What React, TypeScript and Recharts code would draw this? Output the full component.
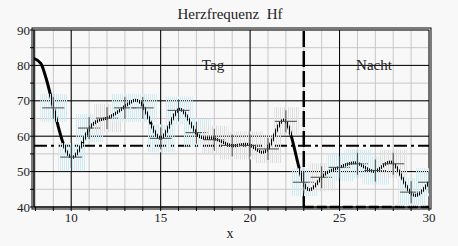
import React from 'react';
import {
  ComposedChart,
  Line,
  Scatter,
  XAxis,
  YAxis,
  CartesianGrid,
  ReferenceLine,
  ReferenceArea,
} from 'recharts';

// Smoothed heart-rate curve: steep start (shoulder) and the main smooth part
const headX = [7.9, 8.3, 8.6, 9];
const headY = [82, 80.6, 76.3, 68.2];
const curveX = [9, 10, 11, 12, 13, 14, 15, 16, 17, 18, 19, 20, 21, 22, 23, 24, 25, 26, 27, 28, 29, 30];
const curveY = [68.2, 54, 62, 65.1, 68.4, 68.7, 59.4, 67.5, 60.8, 59.3, 57.3, 57.5, 56.4, 64.2, 46.6, 48.4, 51.2, 52.4, 50.1, 52.4, 43.8, 47];

// Measured values (crosses)
const measX = [9, 10, 11, 12, 13, 14, 15, 16, 17, 18, 19, 20, 21, 22, 23, 24, 25, 26, 27, 28, 29, 30];
const measY = [68, 54.1, 62.3, 65.1, 68, 68, 59.4, 67.3, 61, 59, 57.4, 57.4, 56.4, 64.2, 47, 48.4, 51.2, 52.2, 50.3, 52.2, 44.2, 47];
const measTint = ['c', 'c', 'c', 'g', 'c', 'c', 'c', 'c', 'c', 'g', 'g', 'g', 'g', 'g', 'c', 'g', 'c', 'c', 'c', 'g', 'c', 'c'];

const xTicks = [8, 9, 10, 11, 12, 13, 14, 15, 16, 17, 18, 19, 20, 21, 22, 23, 24, 25, 26, 27, 28, 29, 30];
const yTicks = [40, 45, 50, 55, 60, 65, 70, 75, 80, 85, 90];
const majorX = [10, 15, 20, 25];
const majorY = [50, 60, 70, 80];
const xDomain = [7.92, 30];
const yDomain = [40, 90];
const daySplit = 23;
const meanLevel = 57.3;

const title = 'Herzfrequenz  Hf';
const dayLabel = 'Tag';
const nightLabel = 'Nacht';
const xLabel = 'x';

const headData = headX.map((x, i) => ({ x, y: headY[i] }));
const curveData = curveX.map((x, i) => ({ x, y: curveY[i] }));
const measData = measX.map((x, i) => ({ x, y: measY[i], tint: measTint[i] }));

const FONT = '"Liberation Serif", "Times New Roman", serif';

const CrossShape = (props: any) => {
  const { cx, cy, index, payload } = props;
  if (cx == null || cy == null) return null;
  const id = `stripes-${index}`;
  const cyan = payload && payload.tint === 'c';
  return (
    <g>
      <defs>
        <pattern id={id} x={0} y={0} width={4} height={4} patternUnits="userSpaceOnUse">
          <rect x={0} y={0} width={1} height={4} fill={cyan ? '#c4f0f9' : '#dcdcdc'} />
          <rect x={2} y={0} width={1} height={4} fill={cyan ? '#dde6e9' : '#e6e6e6'} />
        </pattern>
      </defs>
      <rect x={cx - 13} y={cy - 14} width={27} height={28} fill={`url(#${id})`} />
      <line x1={cx - 11} x2={cx + 11} y1={cy} y2={cy} stroke="#4a4a4a" strokeWidth={1} />
      <line x1={cx} x2={cx} y1={cy - 11} y2={cy + 11} stroke="#4a4a4a" strokeWidth={1} />
    </g>
  );
};

const FrameShape = (p: any) => (
  <g>
    <rect x={p.x} y={p.y} width={p.width} height={p.height} fill="none" stroke="#000" strokeWidth={1} />
    <rect x={p.x - 2} y={p.y - 2} width={p.width + 4} height={p.height + 4} fill="none" stroke="#000" strokeWidth={1} />
  </g>
);

export default function App() {
  return (
    <div
      style={{
        position: 'absolute',
        left: 0,
        top: 0,
        width: 458,
        height: 246,
        background: '#f8f8f8',
        overflow: 'hidden',
      }}
    >
      <ComposedChart
        width={458}
        height={246}
        margin={{ top: 30, right: 29, bottom: 9, left: 0 }}
      >
        <CartesianGrid stroke="#c8c8c8" strokeWidth={1} />
        <XAxis
          dataKey="x"
          type="number"
          domain={xDomain}
          ticks={xTicks}
          allowDataOverflow
          height={30}
          tickSize={4}
          tickMargin={2}
          axisLine={{ stroke: '#000' }}
          tickLine={{ stroke: '#000' }}
          tickFormatter={(v: number) => (v % 5 === 0 ? String(v) : '')}
          tick={{ fontSize: 13, fill: '#222', fontFamily: FONT }}
          interval={0}
        />
        <YAxis
          dataKey="y"
          type="number"
          domain={yDomain}
          ticks={yTicks}
          allowDataOverflow
          width={34}
          tickSize={4}
          tickMargin={0}
          axisLine={{ stroke: '#000' }}
          tickLine={{ stroke: '#000' }}
          tickFormatter={(v: number) => (v % 10 === 0 ? String(v) : '')}
          tick={{ fontSize: 13, fill: '#222', fontFamily: FONT }}
          interval={0}
        />
        {majorX.map((v) => (
          <ReferenceLine key={`mx${v}`} x={v} stroke="#000" strokeWidth={1} />
        ))}
        {majorY.map((v) => (
          <ReferenceLine key={`my${v}`} y={v} stroke="#000" strokeWidth={1} />
        ))}
        <Scatter data={measData} dataKey="y" shape={<CrossShape />} isAnimationActive={false} />
        <ReferenceLine y={meanLevel} stroke="#000" strokeWidth={2} strokeDasharray="13 4 3 4" />
        <ReferenceLine x={daySplit} stroke="#000" strokeWidth={2.5} strokeDasharray="16 4" />
        <ReferenceLine
          segment={[
            { x: daySplit, y: yDomain[0] },
            { x: xDomain[1], y: yDomain[0] },
          ]}
          stroke="#000"
          strokeWidth={2.5}
          strokeDasharray="10 3"
        />
        <Line
          data={headData}
          dataKey="y"
          type="monotoneX"
          stroke="#000"
          strokeWidth={3}
          dot={false}
          activeDot={false}
          isAnimationActive={false}
        />
        <Line
          data={curveData}
          dataKey="y"
          type="natural"
          stroke="#000"
          strokeWidth={3}
          dot={false}
          activeDot={false}
          isAnimationActive={false}
        />
        <ReferenceArea
          x1={xDomain[0]}
          x2={xDomain[1]}
          y1={yDomain[0]}
          y2={yDomain[1]}
          fill="none"
          shape={<FrameShape />}
        />
      </ComposedChart>
      <svg
        width={458}
        height={246}
        style={{ position: 'absolute', left: 0, top: 0, pointerEvents: 'none' }}
      >
        <text x={230} y={19} textAnchor="middle" fontSize={15} fill="#222" fontFamily={FONT} style={{ whiteSpace: 'pre' }}>
          {title}
        </text>
        <text x={213} y={70} textAnchor="middle" fontSize={15} fill="#222" fontFamily={FONT}>
          {dayLabel}
        </text>
        <text x={374} y={70} textAnchor="middle" fontSize={15} fill="#222" fontFamily={FONT}>
          {nightLabel}
        </text>
        <text x={230} y={238} textAnchor="middle" fontSize={14} fill="#222" fontFamily={FONT}>
          {xLabel}
        </text>
      </svg>
    </div>
  );
}
